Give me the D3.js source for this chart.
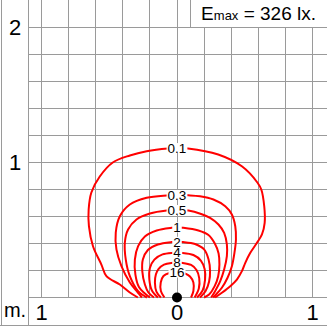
<!DOCTYPE html>
<meta charset="utf-8">
<script src="https://d3js.org/d3.v7.min.js"></script>
<style>
  body { margin: 0; background: #fff; }
  text { font-family: "Liberation Sans", Arial, sans-serif; }
</style>
<div id="chart"></div>
<script>
// isolux lines in metres: x across the lamp axis, y away from the lamp
var iso01 = [[-0.289,0],[-0.348,0.037],[-0.422,0.096],[-0.521,0.158],[-0.558,0.244],[-0.620,0.380],
  [-0.650,0.528],[-0.652,0.652],[-0.632,0.778],[-0.570,0.896],[-0.474,1.000],[-0.348,1.052],
  [-0.224,1.084],[-0.067,1.104],[0,1.107],[0.081,1.104],[0.304,1.059],[0.481,0.970],[0.593,0.852],
  [0.622,0.800],[0.644,0.674],[0.647,0.553],[0.627,0.467],[0.590,0.405],[0.541,0.331],[0.504,0.257],
  [0.479,0.195],[0.442,0.133],[0.393,0.084],[0.331,0.035],[0.281,0]];
var iso03 = [[-0.259,0],[-0.289,0.037],[-0.348,0.111],[-0.410,0.232],[-0.447,0.356],[-0.452,0.481],
  [-0.422,0.602],[-0.348,0.689],[-0.224,0.739],[-0.076,0.756],[0,0.759],[0.084,0.757],[0.170,0.750],
  [0.269,0.726],[0.356,0.676],[0.405,0.615],[0.430,0.528],[0.435,0.430],[0.424,0.331],[0.405,0.232],
  [0.373,0.146],[0.331,0.072],[0.281,0.015],[0.267,0]];
var iso05 = [[-0.222,0],[-0.287,0.047],[-0.348,0.158],[-0.378,0.281],[-0.385,0.407],[-0.361,0.504],
  [-0.299,0.578],[-0.200,0.622],[-0.076,0.644],[0,0.648],[0.084,0.644],[0.178,0.619],[0.244,0.590],
  [0.306,0.541],[0.348,0.479],[0.368,0.393],[0.368,0.306],[0.348,0.207],[0.319,0.121],[0.281,0.047],
  [0.252,0]];
var iso1 = [[-0.200,0],[-0.237,0.030],[-0.281,0.078],[-0.307,0.170],[-0.311,0.281],[-0.287,0.380],
  [-0.237,0.452],[-0.150,0.496],[-0.039,0.516],[0,0.519],[0.047,0.516],[0.158,0.496],[0.232,0.463],
  [0.279,0.400],[0.307,0.326],[0.313,0.244],[0.304,0.158],[0.278,0.084],[0.237,0.022],[0.200,0]];
var iso2 = [[-0.170,0],[-0.211,0.037],[-0.237,0.096],[-0.256,0.193],[-0.252,0.281],[-0.215,0.352],
  [-0.141,0.393],[-0.039,0.411],[0,0.413],[0.044,0.411],[0.133,0.396],[0.200,0.356],[0.233,0.281],
  [0.244,0.196],[0.237,0.119],[0.211,0.048],[0.170,0]];
var iso4 = [[-0.141,0],[-0.185,0.052],[-0.204,0.133],[-0.200,0.219],[-0.167,0.281],[-0.107,0.319],
  [-0.030,0.331],[0,0.332],[0.033,0.331],[0.121,0.315],[0.176,0.274],[0.204,0.211],[0.207,0.130],
  [0.189,0.052],[0.148,0]];
var iso8 = [[-0.119,0],[-0.152,0.044],[-0.163,0.111],[-0.156,0.170],[-0.137,0.211],[-0.096,0.244],
  [-0.032,0.257],[0,0.259],[0.035,0.257],[0.104,0.241],[0.144,0.204],[0.164,0.144],[0.161,0.067],
  [0.130,0]];
var iso16 = [[-0.093,0],[-0.119,0.048],[-0.120,0.111],[-0.100,0.159],[-0.056,0.181],[0,0.185],
  [0.059,0.178],[0.096,0.156],[0.121,0.111],[0.121,0.048],[0.104,0]];

var levels = ["0.1", "0.3", "0.5", "1", "2", "4", "8", "16"];
var curves = [iso01, iso03, iso05, iso1, iso2, iso4, iso8, iso16];

var xTicks = [-1, 0, 1];
var xTickText = ["1", "0", "1"];
var yTicks = [1, 2];
var emax = 326;

var width = 327, height = 326;
var gray = "#9a9a9a";

var svg = d3.select("#chart").append("svg")
  .attr("width", width)
  .attr("height", height);

var x = d3.scaleLinear().domain([-1, 1]).range([41.5, 312.5]);
var y = d3.scaleLinear().domain([0, 2]).range([297.5, 27.5]);
var snap = v => Math.round(v - 0.5) + 0.5;

// grid every 0.2 m
var grid = svg.append("g")
  .attr("stroke", gray)
  .attr("stroke-width", 1)
  .attr("shape-rendering", "crispEdges");

grid.selectAll(".v")
  .data(d3.range(-1, 1.0001, 0.2))
  .enter().append("line")
  .attr("x1", d => snap(x(d))).attr("x2", d => snap(x(d)))
  .attr("y1", 0).attr("y2", snap(y(0)));

grid.selectAll(".h")
  .data(d3.range(0, 2.0001, 0.2))
  .enter().append("line")
  .attr("x1", 28.5).attr("x2", width)
  .attr("y1", d => snap(y(d))).attr("y2", d => snap(y(d)));

// frame
grid.append("line").attr("x1", 28.5).attr("x2", 28.5).attr("y1", 0).attr("y2", height);
grid.append("line").attr("x1", 1.5).attr("x2", 1.5).attr("y1", 0).attr("y2", height);
grid.append("line").attr("x1", 0).attr("x2", width).attr("y1", 325.5).attr("y2", 325.5);

// Emax box
svg.append("rect")
  .attr("x", 190.5).attr("y", -1)
  .attr("width", 140).attr("height", snap(y(2)) + 1)
  .attr("fill", "#fff")
  .attr("stroke", gray)
  .attr("shape-rendering", "crispEdges");

var et = svg.append("text")
  .attr("x", 316).attr("y", 19.5)
  .attr("text-anchor", "end")
  .attr("font-size", 19);
et.append("tspan").text("E");
et.append("tspan").attr("font-size", 13).text("max");
et.append("tspan").text(" = " + emax + " lx.");

// isolux curves
var line = d3.line()
  .x(d => x(d[0]))
  .y(d => y(d[1]))
  .curve(d3.curveCatmullRom.alpha(0.5));

svg.append("g")
  .selectAll("path")
  .data(curves)
  .enter().append("path")
  .attr("d", line)
  .attr("fill", "none")
  .attr("stroke", "#ff0000")
  .attr("stroke-width", 2);

// level labels on top of each curve
curves.forEach(function(c, i) {
  var top = d3.max(c, d => d[1]);
  var g = svg.append("g");
  var t = g.append("text")
    .attr("x", x(0))
    .attr("y", y(top) + 4.8)
    .attr("text-anchor", "middle")
    .attr("font-size", 13.5)
    .text(levels[i]);
  var b = t.node().getBBox();
  g.insert("rect", "text")
    .attr("x", b.x - 1).attr("y", y(top) - 5)
    .attr("width", b.width + 2).attr("height", 10)
    .attr("fill", "#fff");
});

// lamp position
svg.append("circle")
  .attr("cx", x(0)).attr("cy", y(0))
  .attr("r", 5)
  .attr("fill", "#000");

// axis labels
svg.selectAll(".yl")
  .data(yTicks)
  .enter().append("text")
  .attr("x", 15).attr("y", d => y(d) + 7.5)
  .attr("text-anchor", "middle")
  .attr("font-size", 22)
  .text(d => d);

svg.selectAll(".xl")
  .data(xTicks)
  .enter().append("text")
  .attr("x", d => x(d)).attr("y", 319.5)
  .attr("text-anchor", "middle")
  .attr("font-size", 22)
  .text((d, i) => xTickText[i]);

svg.append("text")
  .attr("x", 15).attr("y", 317)
  .attr("text-anchor", "middle")
  .attr("font-size", 20)
  .text("m.");
</script>
